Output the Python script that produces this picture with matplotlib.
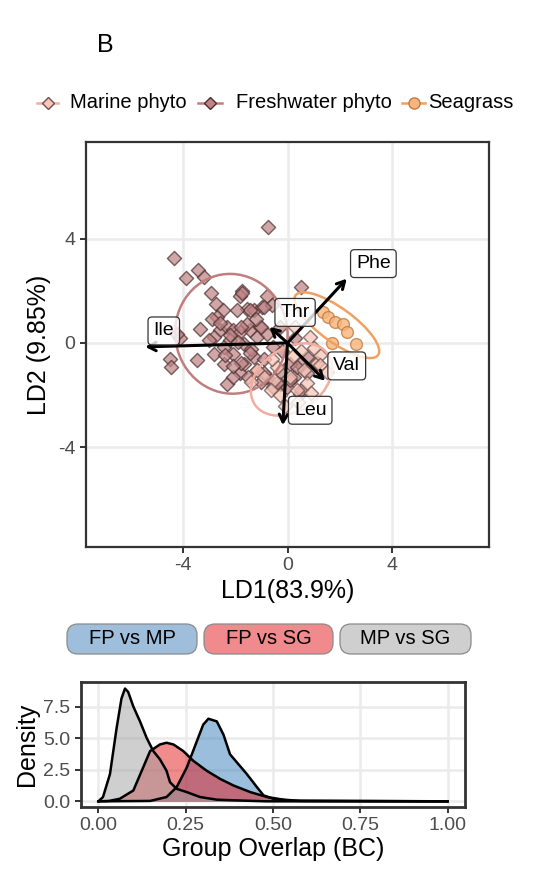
import matplotlib
matplotlib.use("Agg")
import matplotlib.pyplot as plt
import numpy as np
from matplotlib.patches import Ellipse, FancyBboxPatch
from matplotlib.lines import Line2D

plt.rcParams["font.family"] = ["Liberation Sans", "DejaVu Sans"]

W, H = 550, 876

# ---- LDA scores (LD1, LD2) ----------------------------------------------
fp_x = [-0.73, -4.34, -3.88, -3.44, -3.21, -2.93, -1.76, -1.81, -0.79, -2.73,
        -2.49, -1.56, -1.30, -0.98, -0.60, -3.34, -2.58, -2.32, -2.07, -1.81,
        -1.43, -1.05, -4.11, -4.23, -4.49, -4.46, -3.47, -2.83, -2.45, -2.07,
        -1.68, -1.30, -2.45, -2.32, -1.81, -1.17, -0.79, -0.54, -0.28, -0.03,
        0.48, 0.23, 0.48, 0.74, -2.70, -2.83, -2.19, -1.68, -1.17, -0.79,
        -0.54, -1.56, -2.90, -2.60, -2.20, -1.90, -2.40, -1.40, -0.90, -1.50,
        -1.00, -0.30, 0.10, -0.20, 0.30, 0.52, -1.74, -1.42, -0.91, -1.93,
        -1.80, -1.03, -0.27, -1.42, -1.80, -0.91, 0.37, 0.75, 1.14, -0.39,
        0.11, 0.50, -2.07, -3.00, -2.10, -1.20]
fp_y = [4.44, 3.25, 2.49, 2.81, 2.53, 1.93, 1.99, 1.79, 1.79, 1.51,
        1.25, 1.31, 1.25, 1.38, 1.44, 0.55, 0.48, 0.61, 0.48, 0.42,
        0.48, 0.61, 0.17, 0.36, -0.60, -0.94, -0.66, -0.41, -0.15, -0.41,
        -0.79, -0.54, -0.79, -1.56, -1.17, -1.05, -1.30, -1.68, -1.56, -1.68,
        -1.94, -1.30, -0.79, -0.54, 1.00, 0.23, 0.10, -0.03, 0.23, 0.36,
        -0.15, 0.74, 0.90, 0.75, 0.30, 0.05, -0.45, -0.25, -0.60, -1.30,
        -1.50, -1.10, -0.80, -0.30, 0.20, 2.13, 1.90, 1.26, 1.39, 1.26,
        0.62, 0.62, 0.62, -0.40, -0.78, -1.16, -0.91, -1.16, -0.78, -1.55,
        -1.42, -1.80, -1.29, 0.10, -0.90, 0.90]

mp_x = [0.88, 1.14, 0.63, 0.11, -0.52, -0.91, -1.16, -0.65, 0.37, 1.26,
        0.42, -0.39, 1.25, 0.75, 0.20, -0.30, 1.00, 0.50, -1.40, 1.50,
        0.90, -0.10, 0.30, -0.60]
mp_y = [0.24, -0.78, -1.03, -1.29, -1.42, -1.29, -1.03, -1.80, -1.80, -0.46,
        -2.25, -0.91, -0.85, -1.55, -0.50, -2.00, -0.20, -0.30, -1.50, -1.10,
        -1.90, -2.40, 0.60, -0.60]

sg_x = [1.35, 1.57, 1.82, 2.14, 2.27, 2.63, 1.72]
sg_y = [1.19, 1.00, 0.80, 0.74, 0.42, -0.03, 0.01]

# ellipse summaries: centre x, centre y, width, height, angle
ell_fp = [-2.15, 0.35, 4.3, 4.6, 10]
ell_mp = [0.15, -1.40, 3.4, 2.4, 35]
ell_sg = [1.89, 0.68, 3.9, 1.3, -36]

# loading arrows
vars_ = ["Ile", "Phe", "Thr", "Val", "Leu"]
arr_x = [-5.45, 2.27, -0.69, 1.44, -0.18]
arr_y = [-0.15, 2.46, 0.61, -1.45, -3.15]
lab_x = [-4.74, 3.29, 0.29, 2.27, 0.87]
lab_y = [0.46, 3.04, 1.17, -0.88, -2.58]

# ---- bootstrap overlap densities --------------------------------------
mpsg_x = [0.0, 0.013, 0.033, 0.052, 0.066, 0.076, 0.085, 0.10, 0.119, 0.138,
          0.157, 0.176, 0.195, 0.205, 0.224, 0.253, 0.291, 0.339, 0.387, 0.48, 1.0]
mpsg_y = [0.0, 0.34, 2.16, 5.8, 8.15, 8.93, 8.67, 7.5, 6.33, 5.03,
          3.98, 3.33, 2.42, 1.51, 0.99, 0.73, 0.34, 0.13, 0.08, 0.0, 0.0]

fpsg_x = [0.0, 0.03, 0.061, 0.10, 0.128, 0.148, 0.176, 0.195, 0.215, 0.243,
          0.272, 0.31, 0.349, 0.387, 0.435, 0.483, 0.53, 0.58, 1.0]
fpsg_y = [0.0, 0.03, 0.2, 0.86, 2.68, 3.98, 4.5, 4.64, 4.5, 3.98,
          3.2, 2.42, 1.77, 1.25, 0.73, 0.34, 0.13, 0.03, 0.0]

fpmp_x = [0.0, 0.148, 0.195, 0.224, 0.253, 0.282, 0.30, 0.315, 0.339, 0.358,
          0.377, 0.397, 0.425, 0.454, 0.473, 0.50, 0.55, 1.0]
fpmp_y = [0.0, 0.03, 0.34, 1.12, 2.68, 4.77, 6.07, 6.54, 6.33, 5.29,
          3.72, 3.07, 2.16, 1.12, 0.47, 0.21, 0.05, 0.0]

C_FP = "#c08486"
C_MP = "#f8c6b8"
C_SG = "#f8b47a"
E_FP = "#4a2e2e"
E_MP = "#6a5050"
E_SG = "#c07a40"
L_FP = "#c07e7e"
L_MP = "#f2ad9f"
L_SG = "#f0a060"
GRID = "#ebebeb"
FRAME = "#333333"
TICK = "#4d4d4d"


def px_rect(x0, y0, x1, y1):
    return [x0 / W, 1 - y1 / H, (x1 - x0) / W, (y1 - y0) / H]


def ftext(x, y, s, **kw):
    fig.text(x / W, 1 - y / H, s, **kw)


def style_axes(ax):
    for sp in ax.spines.values():
        sp.set_color(FRAME)
        sp.set_linewidth(1.6)
    ax.tick_params(colors=FRAME, labelcolor=TICK, labelsize=14, length=4, width=1.4)
    ax.grid(True, color=GRID, lw=1.8)
    ax.set_axisbelow(True)


fig = plt.figure(figsize=(W / 100, H / 100), dpi=100)

ftext(105, 45, "B", fontsize=18, ha="center", va="center")

# ---- top: LDA biplot ---------------------------------------------------
ax = fig.add_axes(px_rect(86, 142, 489, 547))
style_axes(ax)
ax.set_xlim(-7.72, 7.72)
ax.set_ylim(-7.82, 7.70)
ax.set_xticks([-4, 0, 4])
ax.set_yticks([-4, 0, 4])
ax.set_xticklabels(["-4", "0", "4"])
ax.set_yticklabels(["-4", "0", "4"])

ax.scatter(fp_x, fp_y, marker="D", s=52, fc=C_FP, ec=E_FP, lw=1.0, alpha=0.72, zorder=3)
ax.scatter(mp_x, mp_y, marker="D", s=52, fc=C_MP, ec=E_MP, lw=1.0, alpha=0.75, zorder=3)
ax.scatter(sg_x, sg_y, marker="o", s=72, fc=C_SG, ec=E_SG, lw=1.0, alpha=0.8, zorder=3)

for e, c in [(ell_fp, L_FP), (ell_mp, L_MP), (ell_sg, L_SG)]:
    ax.add_patch(Ellipse((e[0], e[1]), e[2], e[3], angle=e[4], fill=False,
                         ec=c, lw=1.8, zorder=4))

for v, ex, ey, lx, ly in zip(vars_, arr_x, arr_y, lab_x, lab_y):
    ax.annotate("", xy=(ex, ey), xytext=(0, 0),
                arrowprops=dict(arrowstyle="->,head_length=0.55,head_width=0.3",
                                lw=2.2, color="black", shrinkA=0, shrinkB=0),
                zorder=5)
    ax.text(lx, ly, v, fontsize=14, ha="center", va="center", zorder=6,
            bbox=dict(boxstyle="round,pad=0.28,rounding_size=0.2",
                      fc=(1, 1, 1, 0.8), ec="#333333", lw=0.9))

ax.set_xlabel("LD1(83.9%)", fontsize=18, labelpad=3)
ax.set_ylabel("LD2 (9.85%)", fontsize=18, labelpad=5)

# legend row
leg_y = 103
keys = [(37, 58, 70, "Marine phyto", "D", C_MP, L_MP, E_MP),
        (198, 222, 236, "Freshwater phyto", "D", C_FP, L_FP, E_FP),
        (402, 425, 428, "Seagrass", "o", C_SG, L_SG, E_SG)]
for x0, x1, tx, lab, mk, fc, lc, ec in keys:
    fig.add_artist(Line2D([x0 / W, x1 / W], [1 - leg_y / H] * 2, color=lc, lw=1.8))
    fig.add_artist(Line2D([(x0 + x1) / 2 / W], [1 - leg_y / H], marker=mk,
                          ms=8 if mk == "o" else 6.5, mfc=fc, mec=ec, mew=1.0, ls="none"))
    ftext(tx, leg_y, lab, fontsize=14.5, ha="left", va="center")

# ---- bottom: overlap densities -----------------------------------------
bx = fig.add_axes(px_rect(81, 682, 465, 807))
style_axes(bx)
bx.set_xlim(-0.05, 1.05)
bx.set_ylim(-0.45, 9.45)
bx.set_xticks([0, 0.25, 0.5, 0.75, 1.0])
bx.set_xticklabels(["0.00", "0.25", "0.50", "0.75", "1.00"])
bx.set_yticks([0, 2.5, 5.0, 7.5])
bx.set_yticklabels(["0.0", "2.5", "5.0", "7.5"])
for sp in bx.spines.values():
    sp.set_linewidth(2.0)

dens = [(fpmp_x, fpmp_y, "#377eb8", 0.5), (fpsg_x, fpsg_y, "#e41a1c", 0.5),
        (mpsg_x, mpsg_y, "#a0a0a0", 0.5)]
for xs, ys, c, a in dens:
    bx.fill_between(xs, ys, 0, color=c, alpha=a, lw=0, zorder=2)
    bx.plot(xs, ys, color="black", lw=1.8, zorder=3)

bx.set_xlabel("Group Overlap (BC)", fontsize=18, labelpad=2)
bx.set_ylabel("Density", fontsize=18, labelpad=3)

pills = [(67, 197, "FP vs MP", "#9ebedc"), (204, 333, "FP vs SG", "#f08a8c"),
         (340, 471, "MP vs SG", "#cfcfcf")]
for x0, x1, lab, c in pills:
    fig.add_artist(FancyBboxPatch((x0 / W, 1 - 654 / H), (x1 - x0) / W, 30 / H,
                                  boxstyle="round,pad=0,rounding_size=0.02",
                                  fc=c, ec="#8a8a8a", lw=0.9,
                                  transform=fig.transFigure, mutation_aspect=W / H))
    ftext((x0 + x1) / 2, 639, lab, fontsize=14.5, ha="center", va="center")

fig.savefig("out.png", dpi=100)
